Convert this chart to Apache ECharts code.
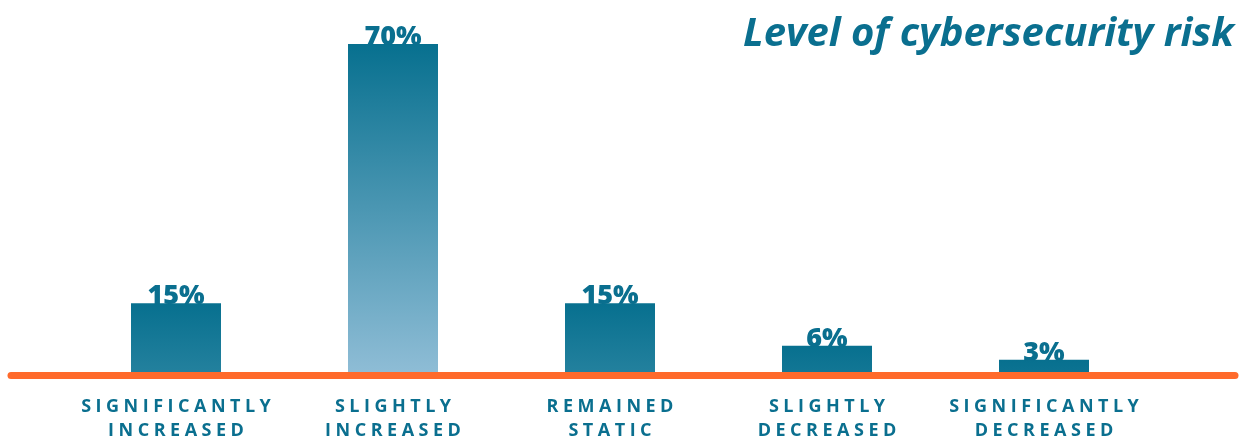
<!DOCTYPE html>
<html><head><meta charset="utf-8">
<script src="https://cdn.jsdelivr.net/npm/echarts@6/dist/echarts.min.js"></script>
<style>html,body{margin:0;padding:0;background:#fff}#c{width:1242px;height:438px}</style>
</head><body><div id="c"></div>
<script>
const title = 'Level of cybersecurity risk';
const categories = ['SIGNIFICANTLY\nINCREASED', 'SLIGHTLY\nINCREASED', 'REMAINED\nSTATIC', 'SLIGHTLY\nDECREASED', 'SIGNIFICANTLY\nDECREASED'];
const values = [15, 70, 15, 6, 3];
const yMax = 70;

const DARK = [7, 112, 143], LIGHT = [143, 189, 214];
function mix(t){ return 'rgb(' + DARK.map((d,i)=>Math.round(d + (LIGHT[i]-d)*t)).join(',') + ')'; }
function spaced(s){ return s.split('\n').map(l => l.split('').join('\u2005')).join('\n'); }

const chart = echarts.init(document.getElementById('c'));
chart.setOption({
  animation: false,
  title: { text: title, right: 3, top: 10,
    textStyle: { fontFamily: 'Open Sans', fontStyle: 'italic', fontWeight: 'bold', fontSize: 40, color: '#0a6f8f' } },
  grid: { left: 67.5, right: 89.5, top: 44, bottom: 64, containLabel: false, outerBoundsMode: 'none' },
  xAxis: { type: 'category', data: categories,
    axisLine: { show: false }, axisTick: { show: false },
    axisLabel: { interval: 0, margin: 21, fontFamily: 'Open Sans', fontWeight: 'bold', fontSize: 18, color: '#0a6f8f', lineHeight: 24,
      formatter: v => spaced(v) } },
  yAxis: { type: 'value', min: 0, max: yMax, show: false, splitLine: { show: false } },
  series: [{
    type: 'bar', barWidth: 90,
    data: values.map(v => ({ value: v, itemStyle: { color: new echarts.graphic.LinearGradient(0, 0, 0, 1, [
      { offset: 0, color: mix(0) }, { offset: 1, color: mix(v / yMax) } ]) } })),
    label: { show: true, position: 'top', distance: -7, formatter: '{c}%',
      fontFamily: 'Open Sans', fontWeight: 800, fontSize: 27, color: '#0a6f8f' }
  }],
  graphic: [{ type: 'line', z: 100, shape: { x1: 11, y1: 375.5, x2: 1235, y2: 375.5 },
    style: { stroke: '#ff6a2b', lineWidth: 7, lineCap: 'round' } }]
});
</script></body></html>
